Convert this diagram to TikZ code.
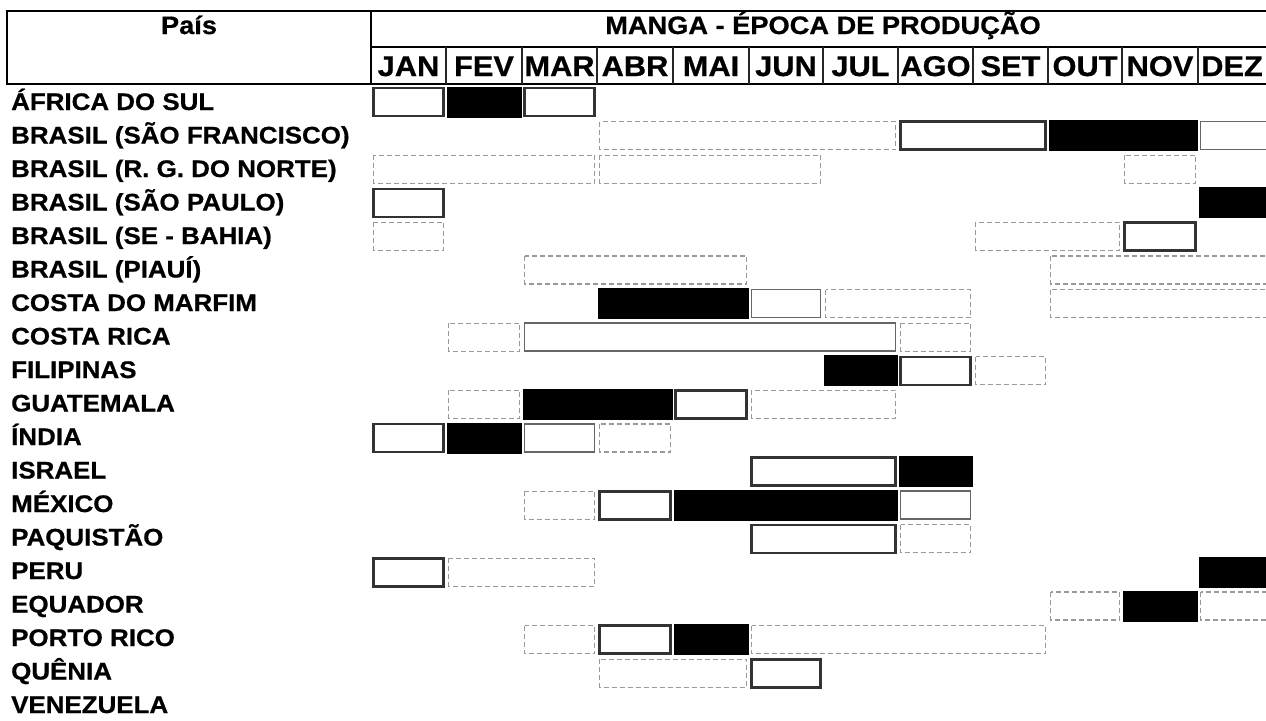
\documentclass[tikz,border=0pt]{standalone}
\usepackage{fontspec}
\setmainfont{Liberation Sans}[FakeStretch=1.08, BoldFeatures={FakeBold=0.7}]
\begin{document}
\def\cols{{371,446,522,597,673,749,823,898,973,1048,1122,1198,1272}}
\begin{tikzpicture}[x=1pt,y=-1pt,
  hdr/.style={line width=2.2pt, draw=black},
  sep/.style={line width=1.6pt, draw=black!85},
  lbl/.style={anchor=base west, inner sep=0pt, font=\bfseries\fontsize{24}{25}\selectfont},
  ttl/.style={anchor=base, inner sep=0pt, font=\bfseries\fontsize{25.2}{26}\selectfont},
  mon/.style={anchor=base, inner sep=0pt, font=\bfseries\fontsize{28.5}{29}\selectfont},
  boxblack/.style={fill=black, draw=none},
  boxstrong/.style={draw=black!80, line width=2.6pt, fill=white},
  boxmed/.style={draw=black!60, line width=1.7pt},
  boxlight/.style={draw=black!40, line width=1.3pt, dash pattern=on 5pt off 3pt},
]
\useasboundingbox (0,0) rectangle (1266,720);
\fill[white] (0,0) rectangle (1266,720);

% ---- header ----
\draw[hdr] (6,11) -- (1266,11);
\draw[hdr] (6,84) -- (1266,84);
\draw[hdr] (7,11) -- (7,84);
\draw[hdr] (371,11) -- (371,84);
\draw[hdr] (371,47) -- (1266,47);
\foreach \x in {446,522,597,673,749,823,898,973,1048,1122,1198}
  \draw[sep] (\x,47) -- (\x,84);

\node[ttl] (pais) at (189,34) {País};
\node[ttl] (title) at (823,34) {MANGA - ÉPOCA DE PRODUÇÃO};
\foreach \m [count=\k] in {JAN,FEV,MAR,ABR,MAI,JUN,JUL,AGO,SET,OUT,NOV,DEZ}{
  \pgfmathsetmacro\xa{\cols[\k-1]}
  \pgfmathsetmacro\xb{\cols[\k]}
  \pgfmathsetmacro\xc{\k==12 ? 1232 : (\xa+\xb)/2}
  \node[mon] (m\k) at (\xc,76) {\m};
}

% ---- row labels ----
\foreach \t [count=\i from 0] in {ÁFRICA DO SUL,BRASIL (SÃO FRANCISCO),BRASIL (R. G. DO NORTE),BRASIL (SÃO PAULO),BRASIL (SE - BAHIA),BRASIL (PIAUÍ),COSTA DO MARFIM,COSTA RICA,FILIPINAS,GUATEMALA,ÍNDIA,ISRAEL,MÉXICO,PAQUISTÃO,PERU,EQUADOR,PORTO RICO,QUÊNIA,VENEZUELA}{
  \pgfmathsetmacro\ty{85+33.5*\i+25}
  \node[lbl] (lab\i) at (11,\ty) {\t};
}

% ---- black cells ----
\foreach \r/\a/\b in {0/2/2,1/10/11,3/12/12,6/4/5,8/7/7,9/3/4,10/2/2,11/8/8,12/5/7,14/12/12,15/11/11,16/5/5}{
  \pgfmathsetmacro\xa{\cols[\a-1]+0.5}
  \pgfmathsetmacro\xb{\cols[\b]-0.5}
  \pgfmathsetmacro\ya{85+33.6*\r+1.5}
  \pgfmathsetmacro\yb{85+33.6*\r+32.5}
  \fill[boxblack] (\xa,\ya) rectangle (\xb,\yb);
}

% ---- outlined cells ----
\foreach \r/\a/\b/\s in {
  0/1/1/boxstrong,0/3/3/boxstrong,1/8/9/boxstrong,3/1/1/boxstrong,4/11/11/boxstrong,
  8/8/8/boxstrong,9/5/5/boxstrong,10/1/1/boxstrong,11/6/7/boxstrong,12/4/4/boxstrong,
  13/6/7/boxstrong,14/1/1/boxstrong,16/4/4/boxstrong,17/6/6/boxstrong,
  1/12/12/boxmed,6/6/6/boxmed,7/3/7/boxmed,10/3/3/boxmed,12/8/8/boxmed,
  1/4/7/boxlight,2/1/3/boxlight,2/4/6/boxlight,2/11/11/boxlight,4/1/1/boxlight,
  4/9/10/boxlight,5/3/5/boxlight,5/10/12/boxlight,6/7/8/boxlight,6/10/12/boxlight,
  7/2/2/boxlight,7/8/8/boxlight,8/9/9/boxlight,9/2/2/boxlight,9/6/7/boxlight,
  10/4/4/boxlight,12/3/3/boxlight,13/8/8/boxlight,14/2/3/boxlight,15/10/10/boxlight,
  15/12/12/boxlight,16/3/3/boxlight,16/6/9/boxlight,17/4/5/boxlight}{
  \pgfmathsetmacro\xa{\cols[\a-1]+2.5}
  \pgfmathsetmacro\xb{\cols[\b]-2.5}
  \pgfmathsetmacro\ya{85+33.6*\r+3}
  \pgfmathsetmacro\yb{85+33.6*\r+31}
  \draw[\s] (\xa,\ya) rectangle (\xb,\yb);
}
\end{tikzpicture}
\end{document}
